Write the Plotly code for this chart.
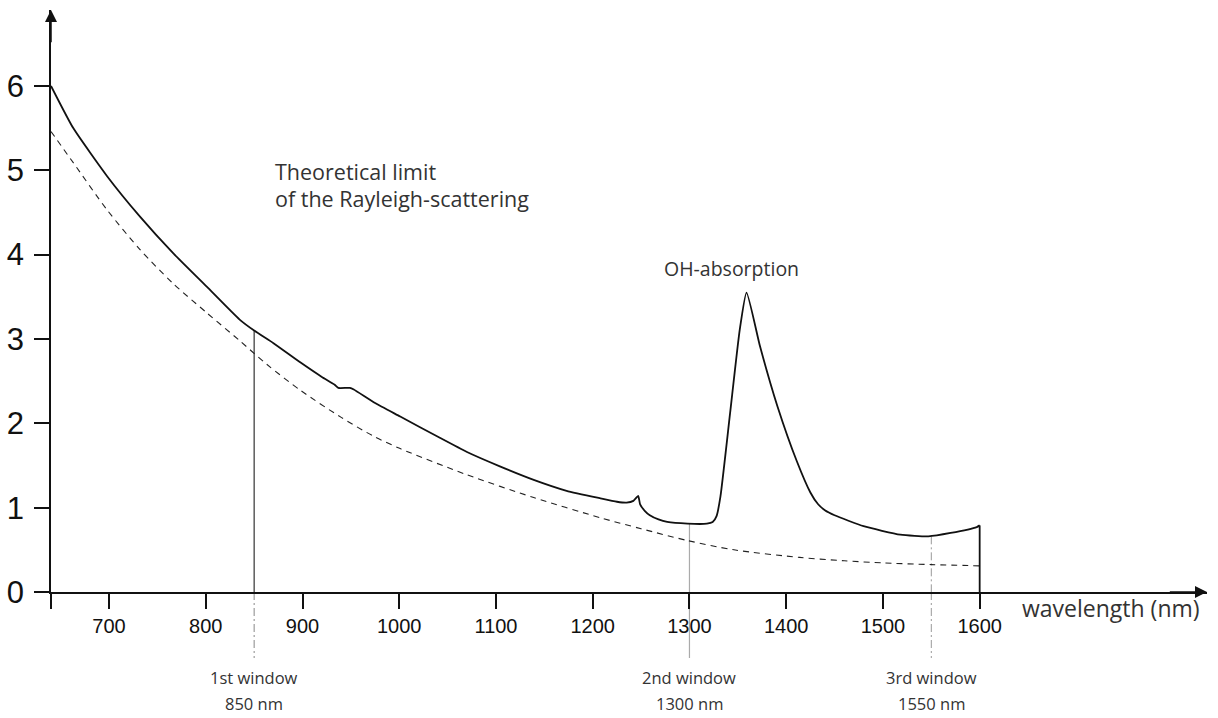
import plotly.graph_objects as go

# ---- data ----
wavelength_fiber = [640, 663, 698, 732, 766, 801, 835, 850, 870, 898, 920, 933, 937, 949, 953,
                    975, 1001, 1040, 1070, 1104, 1139, 1173, 1208, 1225, 1235, 1242, 1247, 1249,
                    1254, 1259, 1268, 1277, 1298, 1318, 1324, 1328, 1332, 1342, 1352, 1359,
                    1373, 1391, 1411, 1425, 1433, 1440, 1450, 1480, 1518, 1547, 1570, 1597, 1600]
attenuation_fiber = [6.00, 5.50, 4.93, 4.45, 4.02, 3.62, 3.23, 3.10, 2.95, 2.72, 2.55, 2.46, 2.42, 2.42, 2.40,
                     2.24, 2.08, 1.84, 1.66, 1.49, 1.33, 1.20, 1.11, 1.07, 1.06, 1.08, 1.14, 1.04,
                     0.96, 0.91, 0.86, 0.83, 0.81, 0.81, 0.83, 0.90, 1.13, 2.12, 3.11, 3.55,
                     2.91, 2.20, 1.55, 1.18, 1.04, 0.97, 0.91, 0.78, 0.68, 0.66, 0.70, 0.77, 0.79]
cutoff_wavelength = [1600, 1600]
cutoff_attenuation = [0.79, 0.0]

wavelength_rayleigh = [640, 663, 698, 732, 766, 801, 835, 863, 898, 940, 973, 1001, 1070, 1139,
                       1208, 1250, 1298, 1346, 1414, 1460, 1500, 1550, 1600]
attenuation_rayleigh = [5.46, 5.09, 4.53, 4.06, 3.66, 3.31, 2.98, 2.70, 2.39, 2.07, 1.85, 1.70, 1.39, 1.12,
                        0.88, 0.75, 0.61, 0.50, 0.41, 0.37, 0.345, 0.325, 0.31]

window_wavelengths = [850, 1300, 1550]
window_attenuation = [3.10, 0.81, 0.66]
window_names = ["1st window", "2nd window", "3rd window"]
window_labels = ["850 nm", "1300 nm", "1550 nm"]

x_tick_values = [640, 700, 800, 900, 1000, 1100, 1200, 1300, 1400, 1500, 1600]
x_tick_text = ["", "700", "800", "900", "1000", "1100", "1200", "1300", "1400", "1500", "1600"]
y_tick_values = [0, 1, 2, 3, 4, 5, 6]

X_RANGE = [640, 1835]
Y_RANGE = [0, 6.9]
PLOT_H = 718 - 10 - 126

fig = go.Figure()

fig.add_trace(go.Scatter(
    x=wavelength_rayleigh, y=attenuation_rayleigh, mode="lines",
    line=dict(color="#222", width=1.1, dash="6px,5px", shape="spline", smoothing=0.8),
    hoverinfo="skip"))
fig.add_trace(go.Scatter(
    x=wavelength_fiber, y=attenuation_fiber, mode="lines",
    line=dict(color="#111", width=1.8, shape="spline", smoothing=0.5), hoverinfo="skip"))
fig.add_trace(go.Scatter(
    x=cutoff_wavelength, y=cutoff_attenuation, mode="lines",
    line=dict(color="#111", width=1.8), hoverinfo="skip"))


def ypaper(v):
    return (v - Y_RANGE[0]) / (Y_RANGE[1] - Y_RANGE[0])


def ypix(px_below_axis):
    return -px_below_axis / PLOT_H


bottom_paper = ypix(66)
dashdot = "8px,3px,2px,3px"
styles = [
    dict(top=dict(color="#333", width=1.2, dash="solid"), bottom=dict(color="#888", width=1, dash=dashdot)),
    dict(top=dict(color="#aaa", width=1.2, dash="solid"), bottom=dict(color="#aaa", width=1.2, dash="solid")),
    dict(top=dict(color="#999", width=1, dash=dashdot), bottom=dict(color="#999", width=1, dash=dashdot)),
]
shapes = []
for wl, att, st in zip(window_wavelengths, window_attenuation, styles):
    shapes.append(dict(type="line", xref="x", yref="paper", x0=wl, x1=wl,
                       y0=ypaper(att), y1=0, line=st["top"], layer="below"))
    shapes.append(dict(type="line", xref="x", yref="paper", x0=wl, x1=wl,
                       y0=0, y1=bottom_paper, line=st["bottom"], layer="below"))

label_font = dict(family="Open Sans, Noto Sans, sans-serif", size=16.5, color="#333")
annotations = []
for wl, name, lab in zip(window_wavelengths, window_names, window_labels):
    annotations.append(dict(x=wl, y=ypix(85), xref="x", yref="paper", text=name, showarrow=False,
                            xanchor="center", yanchor="middle", font=label_font))
    annotations.append(dict(x=wl, y=ypix(111), xref="x", yref="paper", text=lab, showarrow=False,
                            xanchor="center", yanchor="middle", font=label_font))

annotations += [
    dict(x=869, y=4.98, xref="x", yref="y", text="Theoretical limit", showarrow=False,
         xanchor="left", yanchor="middle",
         font=dict(family="Open Sans, Noto Sans, sans-serif", size=21.5, color="#333")),
    dict(x=869, y=4.66, xref="x", yref="y", text="of the Rayleigh-scattering", showarrow=False,
         xanchor="left", yanchor="middle",
         font=dict(family="Open Sans, Noto Sans, sans-serif", size=21.5, color="#333")),
    dict(x=1343, y=3.84, xref="x", yref="y", text="OH-absorption", showarrow=False,
         xanchor="center", yanchor="middle",
         font=dict(family="Open Sans, Noto Sans, sans-serif", size=19.5, color="#333")),
    dict(x=1642, y=ypix(16), xref="x", yref="paper", text="wavelength (nm)", showarrow=False,
         xanchor="left", yanchor="middle",
         font=dict(family="Open Sans, Noto Sans, sans-serif", size=23, color="#333")),
    # axis arrows
    dict(x=X_RANGE[1], y=0, ax=X_RANGE[1] - 40, ay=0, xref="x", yref="y", axref="x", ayref="y",
         showarrow=True, arrowhead=2, arrowsize=1.6, arrowwidth=1.5, arrowcolor="#111", text=""),
    dict(x=X_RANGE[0], y=Y_RANGE[1], ax=X_RANGE[0], ay=Y_RANGE[1] - 0.4, xref="x", yref="y",
         axref="x", ayref="y", showarrow=True, arrowhead=2, arrowsize=1.6, arrowwidth=1.5,
         arrowcolor="#111", text=""),
]

fig.update_layout(
    width=1218, height=718,
    margin=dict(l=51, r=11, t=10, b=126, autoexpand=False),
    paper_bgcolor="white", plot_bgcolor="white",
    showlegend=False,
    shapes=shapes, annotations=annotations,
    xaxis=dict(range=X_RANGE, showgrid=False, zeroline=False, showline=True, linecolor="#111",
               linewidth=1.5, ticks="outside", ticklen=15, tickwidth=1.5, tickcolor="#111",
               tickvals=x_tick_values, ticktext=x_tick_text, automargin=False,
               tickfont=dict(family="Liberation Sans, Arial, sans-serif", size=20, color="#111")),
    yaxis=dict(range=Y_RANGE, showgrid=False, zeroline=False, showline=True, linecolor="#111",
               linewidth=1.5, ticks="outside", ticklen=15, tickwidth=1.5, tickcolor="#111",
               tickvals=y_tick_values, ticklabelstandoff=4, automargin=False,
               tickfont=dict(family="Liberation Sans, Arial, sans-serif", size=31, color="#111")),
)

fig.write_html(
    "out.html",
    config={"displayModeBar": False},
    post_script="document.body.style.margin='0';document.body.style.overflow='hidden';",
)
